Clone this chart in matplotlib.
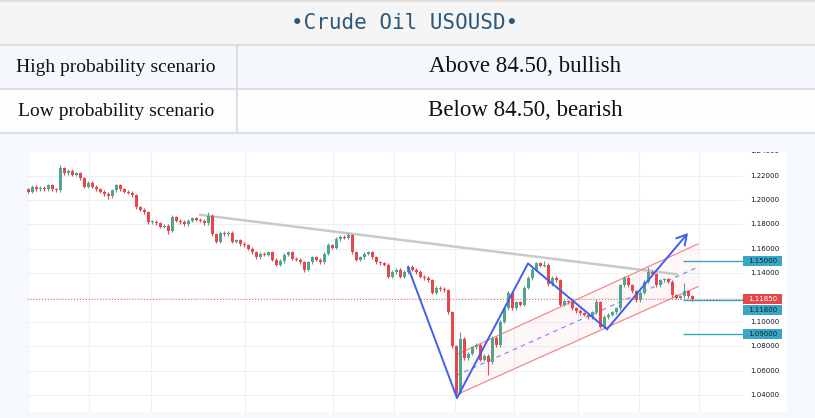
import matplotlib
matplotlib.use("Agg")
import matplotlib.pyplot as plt
from matplotlib.patches import Rectangle
from matplotlib import transforms
from matplotlib.transforms import Bbox, TransformedBbox

# daily closes, one per bar
closes = [
    1.207, 1.211, 1.209, 1.210, 1.209, 1.212, 1.209, 1.208, 1.226, 1.222,
    1.224, 1.221, 1.222, 1.218, 1.211, 1.214, 1.211, 1.209, 1.207, 1.205,
    1.203, 1.208, 1.212, 1.209, 1.207, 1.206, 1.204, 1.194, 1.192, 1.190,
    1.182, 1.182, 1.181, 1.178, 1.179, 1.175, 1.186, 1.183, 1.182, 1.180,
    1.183, 1.185, 1.184, 1.183, 1.181, 1.187, 1.172, 1.166, 1.173, 1.172,
    1.173, 1.166, 1.167, 1.164, 1.163, 1.160, 1.157, 1.153, 1.156, 1.155,
    1.157, 1.151, 1.147, 1.150, 1.155, 1.157, 1.152, 1.151, 1.149, 1.143,
    1.149, 1.153, 1.151, 1.149, 1.156, 1.163, 1.161, 1.168, 1.170, 1.169,
    1.171, 1.157, 1.151, 1.153, 1.156, 1.157, 1.153, 1.149, 1.148, 1.147,
    1.137, 1.141, 1.143, 1.137, 1.141, 1.145, 1.143, 1.141, 1.137, 1.136,
    1.134, 1.124, 1.128, 1.127, 1.126, 1.108, 1.080, 1.042, 1.086, 1.070,
    1.074, 1.079, 1.081, 1.069, 1.072, 1.067, 1.087, 1.081, 1.100, 1.111,
    1.124, 1.111, 1.116, 1.114, 1.128, 1.136, 1.143, 1.148, 1.146, 1.147,
    1.131, 1.136, 1.134, 1.114, 1.117, 1.116, 1.111, 1.109, 1.107, 1.106,
    1.104, 1.108, 1.116, 1.096, 1.104, 1.106, 1.108, 1.111, 1.130, 1.136,
    1.130, 1.125, 1.118, 1.124, 1.133, 1.141, 1.139, 1.130, 1.134, 1.135,
    1.133, 1.122, 1.120, 1.121, 1.125, 1.121, 1.1185,
]
first_open = 1.209
spike_high = {8: 1.229, 36: 1.188, 45: 1.190, 75: 1.165, 80: 1.173, 108: 1.092,
              129: 1.150, 142: 1.119, 155: 1.145, 164: 1.132}
spike_low = {20: 1.201, 35: 1.172, 69: 1.141, 107: 1.0375, 115: 1.056}

price_ticks = [1.04, 1.06, 1.08, 1.10, 1.12, 1.14, 1.16, 1.18, 1.20, 1.22, 1.24]
grid_bars = [0, 15.25, 30.75, 54.25, 76.25, 91.5, 106.75, 121.5, 137.5, 152.75, 167.75]

trend_x = [42.75, 162.5]
trend_y = [1.188, 1.139]
zigzag_x = [95, 107.25, 125, 144.75, 165]
zigzag_y = [1.145, 1.0375, 1.148, 1.094, 1.173]
channel_x = [107, 167.5]
channel_low = [1.040, 1.129]
channel_high = [1.073, 1.164]
channel_mid = [1.056, 1.145]

level_prices = [1.15, 1.118, 1.09]
level_labels = ["1.15000", "1.11800", "1.09000"]
label_prices = [1.15, 1.1097, 1.0897]
level_start = 163.75
last_price = 1.1185

title = "•Crude Oil USOUSD•"
rows = [("High probability scenario", "Above 84.50, bullish"),
        ("Low probability scenario", "Below 84.50, bearish")]

UP = "#4fa58f"
DOWN = "#e5474a"
TEAL = "#3aa6c5"

fig = plt.figure(figsize=(8.15, 4.18), dpi=100)

# background / table, drawn in pixel coordinates
bg = fig.add_axes([0, 0, 1, 1])
bg.set_xlim(0, 815)
bg.set_ylim(418, 0)
bg.axis("off")
bg.add_patch(Rectangle((0, 0), 815, 45, fc="#f5f5f5", ec="none"))
bg.add_patch(Rectangle((0, 45), 815, 44, fc="#f4f8fd", ec="none"))
bg.add_patch(Rectangle((0, 89), 815, 44, fc="#fdfdfd", ec="none"))
bg.add_patch(Rectangle((0, 133), 815, 285, fc="#f5f8fc", ec="none"))
bg.add_patch(Rectangle((27, 152), 760, 260, fc="white", ec="none"))
for yy in [1, 45, 89, 133]:
    bg.plot([0, 815], [yy, yy], color="#dcdcdc", lw=1.3)
bg.plot([237, 237], [45, 133], color="#dcdcdc", lw=1.3)

bg.text(405, 23, title, family="DejaVu Sans Mono", fontsize=15,
        color="#2b5779", ha="center", va="center")
for k, (left, right) in enumerate(rows):
    yc = 67 + 44 * k
    bg.text(116, yc, left, family="Liberation Serif", fontsize=14,
            color="#111111", ha="center", va="center")
    bg.text(525, yc, right, family="Liberation Serif", fontsize=16.5,
            color="#111111", ha="center", va="center")

# price chart
ax = fig.add_axes([27 / 815, 6 / 418, 716 / 815, 260 / 418])
ax.set_facecolor("none")
ax.set_xlim(-0.25, 178.75)
ax.set_ylim(1.026, 1.2395)
for s in ax.spines.values():
    s.set_visible(False)
ax.set_xticks([])
ax.set_yticks([])

for p in price_ticks:
    ax.axhline(p, color="#eef0f4", lw=0.8, zorder=0)
for gx in grid_bars:
    ax.axvline(gx, color="#eef0f4", lw=0.8, zorder=0)

opens = [first_open] + closes[:-1]
for i, (o, c) in enumerate(zip(opens, closes)):
    col = UP if c >= o else DOWN
    hi = spike_high.get(i, max(o, c) + 0.0013)
    lo = spike_low.get(i, min(o, c) - 0.0013)
    ax.vlines(i, lo, hi, color=col, lw=0.8, zorder=3)
    ax.bar(i, max(abs(c - o), 0.0008), bottom=min(o, c), width=0.75,
           color=col, lw=0, zorder=3)

# annotations
ax.plot(trend_x, trend_y, color="#c9c9c9", lw=1.8, zorder=2, solid_capstyle="butt")
ax.fill_between(channel_x, channel_low, channel_high, color="#f23645",
                alpha=0.035, lw=0, zorder=1)
ax.plot(channel_x, channel_low, color="#f28a8a", lw=0.9, zorder=2)
ax.plot(channel_x, channel_high, color="#f28a8a", lw=0.9, zorder=2)
ax.plot(channel_x, channel_mid, color="#6b86f2", lw=0.8, ls=(0, (4, 4)), zorder=2)
ax.axhline(last_price, color="#ef5350", lw=0.7, ls=(0, (1, 2)), zorder=2)
ax.hlines(level_prices, level_start, 178.75, color=TEAL, lw=1.0, zorder=2)

ax.plot(zigzag_x[:-1], zigzag_y[:-1], color="#3f5ff0", lw=1.4, zorder=4)
ax.annotate("", xy=(zigzag_x[-1], zigzag_y[-1]), xytext=(zigzag_x[-2], zigzag_y[-2]),
            arrowprops=dict(arrowstyle="->,head_length=0.7,head_width=0.4",
                            color="#3f5ff0", lw=1.4, shrinkA=0, shrinkB=0),
            zorder=4)

# price axis (labels hidden behind a price box are skipped)
side = transforms.blended_transform_factory(ax.transAxes, ax.transData)
panel = TransformedBbox(Bbox.from_extents(27 / 815, 6 / 418, 787 / 815, 266 / 418),
                        fig.transFigure)
box_prices = label_prices + [last_price]
for p in price_ticks:
    if any(abs(p - b) < 0.006 for b in box_prices):
        continue
    t = ax.text(1 + 7 / 716, p, f"{p:.5f}", transform=side, fontsize=5,
                color="#131722", ha="left", va="center", clip_on=True)
    t.set_clip_box(panel)

box_w = 39 / 716
box_h = 0.0083
for lp, lab in zip(label_prices, level_labels):
    ax.add_patch(Rectangle((1.0, lp - box_h / 2), box_w, box_h, transform=side,
                           fc=TEAL, ec="none", clip_on=False, zorder=5))
    ax.text(1 + box_w / 2, lp, lab, transform=side, fontsize=5, color="#0c2630",
            ha="center", va="center", clip_on=False, zorder=6)
ax.add_patch(Rectangle((1.0, last_price - box_h / 2), box_w, box_h, transform=side,
                       fc="#e5484a", ec="none", clip_on=False, zorder=5))
ax.text(1 + box_w / 2, last_price, f"{last_price:.5f}", transform=side, fontsize=5,
        color="white", ha="center", va="center", clip_on=False, zorder=6)

fig.savefig("out.png", dpi=100)
